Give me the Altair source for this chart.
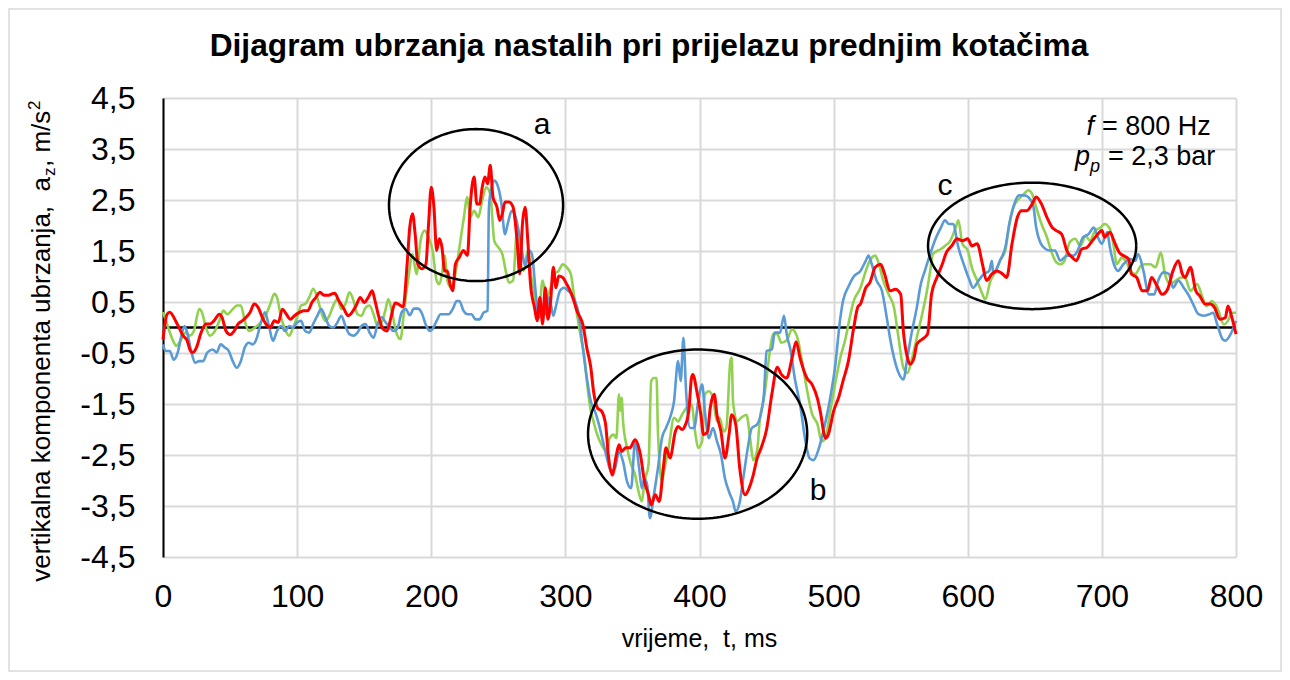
import altair as alt
import pandas as pd
import numpy as np

FONT = "Liberation Sans"
NB = "\u00a0"

# ---------------- data ----------------
blue_t = [0, 2, 5, 8, 11, 14, 16, 18, 21, 24, 27, 30, 33, 37, 40, 43, 46, 49, 52, 55, 58, 61, 64, 67, 70,
          73, 76, 79, 82, 85, 88, 91, 94, 97, 100, 103, 106, 109, 112, 115, 118, 121, 124, 127, 130, 133,
          136, 139, 142, 145, 148, 151, 154, 157, 160, 163, 166, 169, 172, 175, 178, 181, 184, 187, 190,
          193, 196, 199, 201, 204, 207, 210, 213, 216, 219, 221, 224, 227, 230, 233, 236, 239, 242, 243,
          245, 247, 249, 252, 255, 257, 260, 263, 266, 268, 270, 273, 275, 278, 280, 282, 285, 288, 291,
          293, 296, 299, 302, 305, 308, 310, 313, 316, 319, 322, 325, 328, 331, 334, 337, 340, 343, 346,
          349, 352, 355, 357, 359, 361, 363, 366, 369, 372, 375, 378, 381, 384, 386, 388, 390, 393, 396,
          399, 402, 404, 407, 410, 413, 416, 419, 422, 425, 427, 430, 433, 436, 439, 443, 448, 450, 454,
          456, 460, 463, 465, 468, 471, 475, 479, 482, 485, 489, 494, 497, 501, 505, 507, 511, 515, 520,
          524, 526, 528, 532, 536, 540, 542, 545, 548, 552, 555, 558, 562, 565, 568, 572, 576, 580, 583,
          586, 589, 593, 597, 601, 604, 608, 612, 616, 618, 619, 622, 624, 628, 631, 634, 638, 642, 645,
          649, 651, 654, 658, 661, 665, 669, 674, 679, 682, 686, 690, 694, 697, 700, 704, 706, 709, 712,
          716, 721, 725, 727, 731, 735, 739, 742, 746, 750, 753, 757, 761, 765, 768, 772, 776, 780, 783,
          786, 790, 792, 796, 800]
blue_v = [-0.33, -0.46, -0.46, -0.63, -0.49, -0.13, 0.03, -0.1, -0.46, -0.69, -0.66, -0.66, -0.49, -0.43,
          -0.49, -0.33, -0.39, -0.46, -0.66, -0.79, -0.66, -0.39, -0.3, -0.33, -0.2, 0.1, 0.3, 0.03, -0.26,
          -0.07, 0.03, -0.07, 0.03, 0.0, 0.1, 0.13, -0.07, -0.1, 0.07, 0.23, 0.36, 0.2, 0.03, 0.0, 0.1,
          0.23, 0.03, -0.13, -0.16, -0.1, 0.03, 0.07, -0.1, -0.2, 0.07, 0.2, 0.1, 0.0, -0.07, 0.0, 0.3,
          0.36, 0.24, 0.37, 0.37, 0.28, 0.05, -0.07, -0.03, 0.13, 0.26, 0.26, 0.26, 0.36, 0.52, 0.52,
          0.33, 0.26, 0.26, 0.16, 0.16, 0.29, 0.33, 2.36, 2.75, 2.88, 2.82, 2.49, 1.83, 2.03, 2.29, 2.16,
          1.77, 1.44, 1.21, 1.51, 1.44, 0.65, 0.19, 0.26, 0.26, 0.59, 0.23, 0.42, 0.72, 0.78, 0.72, 0.65,
          0.46, 0.26, -0.4, -0.99, -1.45, -1.64, -1.9, -2.23, -2.56, -2.82, -2.76, -2.43, -2.63, -3.02,
          -3.15, -2.23, -2.76, -3.15, -2.96, -3.09, -3.74, -3.28, -2.76, -2.17, -1.97, -1.77, -1.45, -0.66,
          -1.05, -0.2, -1.25, -1.97, -1.97, -1.45, -1.12, -1.64, -2.17, -1.97, -2.23, -2.49, -2.96, -3.22,
          -3.42, -3.61, -3.42, -2.89, -2.36, -1.97, -1.9, -1.32, -0.46, -0.43, -0.1, -0.1, 0.23, -0.13,
          -0.46, -0.99, -1.51, -2.23, -2.56, -2.6, -2.37, -1.84, -1.45, -0.79, 0.19, 0.52, 0.8, 1.0, 1.11,
          1.31, 1.41, 1.28, 0.92, 0.72, 0.13, -0.2, -0.59, -0.86, -1.02, -0.59, -0.13, 0.39, 0.85, 1.11,
          1.44, 1.74, 1.96, 2.1, 2.03, 2.03, 1.57, 1.24, 0.95, 0.78, 0.92, 1.05, 1.11, 1.31, 1.05, 1.18,
          1.31, 1.57, 2.03, 2.36, 2.59, 2.59, 2.56, 2.36, 1.96, 1.67, 1.54, 1.51, 1.51, 1.31, 1.41, 1.41,
          1.51, 1.77, 1.83, 1.96, 1.77, 1.64, 1.87, 1.57, 1.24, 1.11, 1.24, 1.34, 1.31, 1.44, 1.11, 0.65,
          0.65, 0.92, 1.08, 1.05, 0.78, 0.92, 0.78, 0.62, 0.46, 0.26, 0.23, 0.26, 0.29, 0.06, -0.23, -0.26,
          -0.13, 0.13]

green_t = [0, 3, 7, 10, 13, 17, 20, 23, 27, 29, 32, 35, 38, 42, 45, 48, 52, 55, 58, 61, 64, 67, 70, 73,
           77, 80, 83, 85, 88, 91, 94, 97, 100, 103, 106, 109, 112, 115, 118, 121, 124, 127, 130, 133, 136,
           139, 142, 145, 148, 151, 154, 157, 160, 163, 166, 168, 171, 174, 177, 180, 183, 186, 189, 192,
           195, 198, 201, 204, 206, 208, 210, 212, 215, 218, 221, 224, 227, 229, 232, 235, 238, 241, 244,
           247, 250, 253, 256, 258, 261, 264, 266, 269, 272, 275, 277, 280, 283, 286, 289, 292, 295, 298,
           301, 304, 307, 310, 312, 314, 316, 319, 321, 323, 327, 331, 333, 336, 338, 340, 341, 342, 343,
           346, 349, 352, 354, 357, 359, 362, 364, 366, 368, 369, 372, 374, 377, 381, 384, 387, 390, 394,
           397, 399, 402, 404, 407, 410, 413, 415, 418, 420, 423, 424, 425, 428, 431, 435, 438, 440, 443,
           445, 448, 450, 453, 455, 458, 461, 465, 469, 473, 476, 480, 484, 488, 491, 494, 497, 501, 505,
           509, 512, 515, 520, 524, 527, 531, 533, 537, 541, 545, 548, 552, 555, 558, 562, 566, 570, 572,
           574, 580, 583, 587, 591, 593, 596, 600, 603, 607, 611, 613, 617, 621, 624, 628, 631, 634, 638,
           642, 645, 648, 651, 655, 659, 663, 666, 669, 672, 676, 680, 684, 688, 691, 695, 699, 702, 706,
           709, 711, 715, 719, 721, 725, 729, 732, 736, 740, 744, 747, 751, 755, 759, 762, 766, 771, 775,
           778, 782, 786, 791, 794, 797, 800]
green_v = [0.3, 0.07, -0.23, -0.36, -0.26, -0.1, -0.16, -0.07, 0.36, 0.3, 0.0, -0.16, -0.1, 0.13, 0.33,
           0.26, 0.36, 0.43, 0.43, 0.13, -0.07, -0.03, 0.03, 0.1, 0.26, 0.46, 0.66, 0.59, 0.2, -0.03, -0.16,
           0.0, 0.2, 0.43, 0.46, 0.59, 0.76, 0.59, 0.3, 0.13, 0.23, 0.43, 0.56, 0.36, 0.46, 0.69, 0.53, 0.26,
           0.23, 0.39, 0.43, 0.26, 0.03, 0.1, 0.36, 0.56, 0.26, -0.1, -0.23, 0.39, 0.98, 1.44, 1.05, 1.7,
           1.9, 1.77, 1.51, 0.92, 0.85, 1.05, 1.41, 0.92, 0.78, 1.05, 1.57, 2.1, 2.56, 2.16, 2.29, 2.16,
           2.49, 2.75, 2.62, 1.7, 1.57, 1.44, 1.05, 0.88, 0.92, 1.9, 1.38, 1.11, 1.51, 0.92, 0.65, 0.19,
           0.92, 0.59, 0.78, 1.05, 1.11, 1.24, 1.18, 1.05, 0.52, 0.05, -0.26, -0.53, -1.05, -1.64, -1.84,
           -2.04, -2.3, -2.43, -2.17, -2.1, -2.17, -1.31, -1.64, -1.38, -1.84, -2.36, -2.69, -2.89, -3.15,
           -3.41, -3.02, -2.69, -1.05, -0.99, -0.99, -2.04, -3.02, -2.76, -2.36, -1.77, -1.84, -1.71, -1.58,
           -1.51, -2.1, -2.36, -2.23, -1.31, -1.25, -1.38, -1.84, -1.77, -2.04, -1.97, -0.66, -0.59, -1.45,
           -1.84, -1.77, -1.71, -2.23, -2.6, -2.4, -1.8, -1.4, -1.0, -0.36, -0.12, -0.13, -0.3, -0.25,
           -0.04, -0.2, -0.6, -1.2, -1.7, -1.9, -2.23, -2.17, -1.71, -1.12, -0.59, -0.2, 0.19, 0.52, 0.78,
           1.11, 1.31, 1.41, 1.31, 0.92, 0.65, 0.39, -0.13, -0.79, -0.89, -0.66, -0.2, 0.26, 0.78, 1.11,
           1.44, 1.54, 1.6, 1.7, 1.96, 2.1, 1.64, 1.51, 1.18, 0.92, 0.65, 0.55, 0.92, 1.11, 1.31, 1.51,
           2.03, 2.36, 2.52, 2.62, 2.69, 2.62, 2.36, 2.03, 1.77, 1.44, 1.28, 1.24, 1.3, 1.67, 1.74, 1.6,
           1.8, 1.7, 1.9, 1.96, 2.03, 1.93, 1.57, 1.24, 1.37, 1.24, 1.11, 1.05, 1.21, 1.24, 1.24, 1.18,
           1.47, 1.05, 0.85, 0.92, 0.98, 0.98, 0.72, 0.85, 0.59, 0.42, 0.52, 0.39, 0.06, 0.13, 0.29, 0.29]

red_t = [0, 3, 5, 10, 15, 18, 20, 22, 25, 28, 32, 35, 38, 42, 44, 47, 50, 53, 56, 59, 62, 65, 68, 71, 74,
         78, 80, 83, 86, 89, 92, 95, 98, 102, 105, 108, 111, 114, 117, 120, 123, 126, 128, 131, 135, 138,
         141, 144, 147, 150, 153, 156, 158, 161, 164, 167, 170, 173, 176, 179, 182, 184, 186, 188, 190,
         193, 196, 198, 200, 202, 204, 206, 208, 210, 212, 214, 216, 218, 221, 224, 227, 229, 232, 234,
         236, 238, 240, 242, 244, 246, 249, 251, 253, 255, 258, 261, 264, 266, 268, 270, 272, 274, 277,
         279, 281, 283, 285, 287, 289, 291, 293, 295, 298, 301, 303, 306, 309, 311, 313, 316, 319, 321,
         324, 327, 330, 332, 335, 338, 340, 342, 345, 348, 352, 356, 359, 362, 364, 367, 370, 373, 375,
         378, 382, 384, 387, 389, 392, 394, 395, 398, 401, 403, 406, 408, 411, 413, 416, 419, 422, 424,
         427, 430, 434, 437, 440, 443, 446, 450, 454, 458, 461, 465, 469, 472, 475, 480, 484, 488, 490,
         494, 496, 500, 504, 507, 511, 515, 518, 520, 524, 527, 531, 535, 538, 542, 546, 550, 552, 555,
         557, 560, 562, 566, 570, 573, 577, 581, 584, 588, 592, 596, 600, 603, 607, 611, 614, 618, 622,
         626, 629, 633, 637, 640, 644, 648, 651, 655, 659, 663, 666, 670, 674, 678, 681, 685, 689, 692,
         696, 700, 702, 706, 709, 713, 716, 720, 722, 726, 730, 734, 737, 741, 745, 749, 753, 757, 760,
         762, 766, 770, 773, 777, 781, 784, 788, 792, 794, 797, 800]
red_v = [-0.23, 0.26, 0.3, 0.1, -0.16, -0.26, -0.43, -0.49, -0.39, -0.13, 0.07, 0.07, 0.13, 0.26, 0.2,
         -0.07, -0.14, -0.07, 0.07, 0.13, 0.2, 0.3, 0.46, 0.39, 0.2, 0.03, 0.0, 0.13, 0.1, 0.36, 0.26, 0.16,
         0.23, 0.3, 0.33, 0.33, 0.49, 0.59, 0.69, 0.63, 0.63, 0.66, 0.67, 0.53, 0.36, 0.23, 0.3, 0.43,
         0.59, 0.49, 0.59, 0.72, 0.53, 0.2, -0.03, -0.07, 0.2, 0.48, 0.45, 0.4, 1.24, 1.97, 2.23, 1.83,
         1.24, 1.15, 1.24, 2.03, 2.75, 2.36, 1.51, 1.74, 1.57, 1.11, 1.11, 0.85, 0.72, 1.24, 1.38, 1.51,
         1.41, 2.36, 2.95, 2.42, 2.42, 2.75, 2.95, 2.82, 3.18, 2.56, 2.36, 2.1, 2.23, 2.46, 2.46, 2.36, 1.7,
         1.05, 2.03, 2.36, 1.7, 0.85, 0.39, 0.13, 0.59, 0.07, 0.78, 0.16, 0.52, 1.18, 0.78, 1.01, 0.98,
         0.85, 0.75, 0.55, 0.3, 0.2, 0.06, -0.4, -0.79, -1.25, -1.58, -1.64, -1.9, -2.5, -2.89, -2.5, -2.3,
         -2.43, -2.36, -2.36, -2.2, -2.5, -3.02, -3.28, -3.48, -3.28, -3.41, -2.76, -2.36, -2.56, -2.04,
         -1.94, -2.0, -1.94, -1.64, -0.99, -0.92, -1.25, -1.71, -2.1, -2.04, -1.58, -1.31, -1.71, -2.04,
         -2.56, -2.1, -1.71, -1.9, -2.76, -3.28, -3.15, -2.9, -2.56, -2.36, -2.0, -1.3, -0.78, -0.92,
         -0.99, -0.6, -0.28, -0.6, -0.99, -1.12, -1.4, -1.64, -2.17, -2.1, -1.64, -1.35, -1.05, -0.66,
         0.0, 0.4, 0.46, 0.78, 0.88, 1.18, 1.24, 1.05, 0.72, 0.75, 0.65, -0.07, -0.59, -0.72, -0.59, -0.33,
         -0.23, -0.13, 0.65, 0.98, 1.24, 1.47, 1.6, 1.74, 1.7, 1.74, 1.6, 1.64, 1.24, 0.92, 1.05, 1.11,
         1.05, 0.98, 1.64, 2.16, 2.29, 2.29, 2.42, 2.56, 2.42, 2.16, 1.96, 1.9, 1.83, 1.5, 1.37, 1.31,
         1.54, 1.57, 1.67, 1.8, 1.9, 1.77, 1.87, 1.7, 1.47, 1.41, 1.34, 1.05, 0.98, 0.72, 0.72, 0.98, 0.82,
         0.65, 0.75, 1.11, 1.31, 1.05, 0.98, 1.18, 0.72, 0.62, 0.46, 0.46, 0.39, 0.16, 0.19, 0.42, 0.19,
         -0.13]

# ellipses marking regions a, b, c (centre t, centre v, radius t, radius v)
ell_names = ["a", "b", "c"]
ell_ct = [233.4, 398.6, 648.0]
ell_cv = [2.40, -2.09, 1.60]
ell_rt = [64.9, 81.7, 77.6]
ell_rv = [1.49, 1.66, 1.24]

# ellipse letters
lab_text = ["a", "b", "c"]
lab_t = [282.6, 488.4, 583.0]
lab_v = [3.98, -3.20, 2.78]

y_ticks = [-4.5, -3.5, -2.5, -1.5, -0.5, 0.5, 1.5, 2.5, 3.5, 4.5]
x_ticks = [0, 100, 200, 300, 400, 500, 600, 700, 800]

TITLE = "Dijagram ubrzanja nastalih pri prijelazu prednjim kotačima"
X_TITLE = "vrijeme," + NB + NB + "t, ms"

# ---------------- chart ----------------
W, H = 1073, 459
xs = alt.Scale(domain=[0, 800], nice=False, zero=False)
ys = alt.Scale(domain=[-4.5, 4.5], nice=False, zero=False)

x_axis = alt.Axis(values=x_ticks, domain=False, ticks=False, tickSize=0, grid=True,
                  gridColor="#d9d9d9", gridWidth=2, labelFont=FONT, labelFontSize=32,
                  labelColor="black", labelPadding=24, labelFlush=False, title=None)
y_axis = alt.Axis(values=y_ticks, domain=True, domainColor="black", domainWidth=2, ticks=False,
                  tickSize=0, grid=True, gridColor="#d9d9d9", gridWidth=2, labelFont=FONT,
                  labelFontSize=32, labelColor="black", labelPadding=28, title=None,
                  labelExpr="(datum.value < 0 ? '-' : '') + replace(format(abs(datum.value), '.1f'), '.', ',')")

X = alt.X("t:Q", scale=xs, axis=x_axis)
Y = alt.Y("v:Q", scale=ys, axis=y_axis)


def series(t, v, color, width):
    df = pd.DataFrame({"t": t, "v": v})
    return alt.Chart(df).mark_line(color=color, strokeWidth=width, interpolate="monotone").encode(x=X, y=Y)


zero = alt.Chart(pd.DataFrame({"v": [0.0]})).mark_rule(color="black", strokeWidth=2.5).encode(
    y=alt.Y("v:Q", scale=ys, axis=y_axis))

green = series(green_t, green_v, "#92D050", 2.6)
blue = series(blue_t, blue_v, "#5B9BD5", 2.6)
red = series(red_t, red_v, "#FF0000", 3.0)

rows = []
ang = np.linspace(0, 2 * np.pi, 181)
for n, ct, cv, rt, rv in zip(ell_names, ell_ct, ell_cv, ell_rt, ell_rv):
    for i, a in enumerate(ang):
        rows.append({"e": n, "i": i, "t": ct + rt * np.cos(a), "v": cv + rv * np.sin(a)})
ell = alt.Chart(pd.DataFrame(rows)).mark_line(color="black", strokeWidth=2.5).encode(
    x=X, y=Y, detail="e:N", order="i:Q")

labels = alt.Chart(pd.DataFrame({"t": lab_t, "v": lab_v, "s": lab_text})).mark_text(
    font=FONT, fontSize=30, color="black", align="center", baseline="middle").encode(x=X, y=Y, text="s:N")


def ptext(txt, x, y, size, **kw):
    return alt.Chart(pd.DataFrame({"s": [txt]})).mark_text(
        font=FONT, fontSize=size, color="black", **kw).encode(
        x=alt.value(x), y=alt.value(y), text="s:N")


# titles (pixel positions relative to the plot area origin)
title = ptext(TITLE, 486, -42, 31.7, fontWeight="bold", align="center", baseline="alphabetic")
xtitle = ptext(X_TITLE, 536.5, 549, 25, align="center", baseline="alphabetic")

# rotated y title: "vertikalna komponenta ubrzanja,  a_z , m/s^2"
YX, YY = -113, 177 - 98
yt1 = ptext("vertikalna komponenta ubrzanja," + NB + NB + "a", YX, YY, 26, angle=270, align="right",
            baseline="alphabetic")
yt2 = ptext("z", YX, YY, 17, angle=270, align="left", baseline="alphabetic", dx=1, dy=5)
yt3 = ptext(NB + "," + NB + "m/s", YX, YY, 26, angle=270, align="left", baseline="alphabetic", dx=10)
yt4 = ptext("2", YX, YY, 17, angle=270, align="left", baseline="alphabetic", dx=67, dy=-10)

# f = 800 Hz / p_p = 2,3 bar
f1 = ptext("f", 1094 - 163, 135 - 98, 27, fontStyle="italic", align="right", baseline="alphabetic")
f2 = ptext("= 800 Hz", 1102 - 163, 135 - 98, 27, align="left", baseline="alphabetic")
p1 = ptext("p", 1090 - 163, 165 - 98, 27, fontStyle="italic", align="right", baseline="alphabetic")
p2 = ptext("p", 1090 - 163, 172 - 98, 18, fontStyle="italic", align="left", baseline="alphabetic")
p3 = ptext("= 2,3 bar", 1108 - 163, 165 - 98, 27, align="left", baseline="alphabetic")

border = alt.Chart(pd.DataFrame({"k": [0]})).mark_rect(fill=None, stroke="#d9d9d9", strokeWidth=1.5).encode(
    x=alt.value(-154), x2=alt.value(W + 45), y=alt.value(-89), y2=alt.value(H + 114))

chart = alt.layer(
    border, zero, green, blue, red, ell, labels, title, xtitle, yt1, yt2, yt3, yt4, f1, f2, p1, p2, p3
).properties(
    width=W, height=H,
    autosize=alt.AutoSizeParams(type="none"),
    padding={"left": 155, "top": 90, "right": 46, "bottom": 115},
    background="white",
).configure_view(stroke=None)

chart.save("out.html", embed_options={"renderer": "svg", "actions": False})
